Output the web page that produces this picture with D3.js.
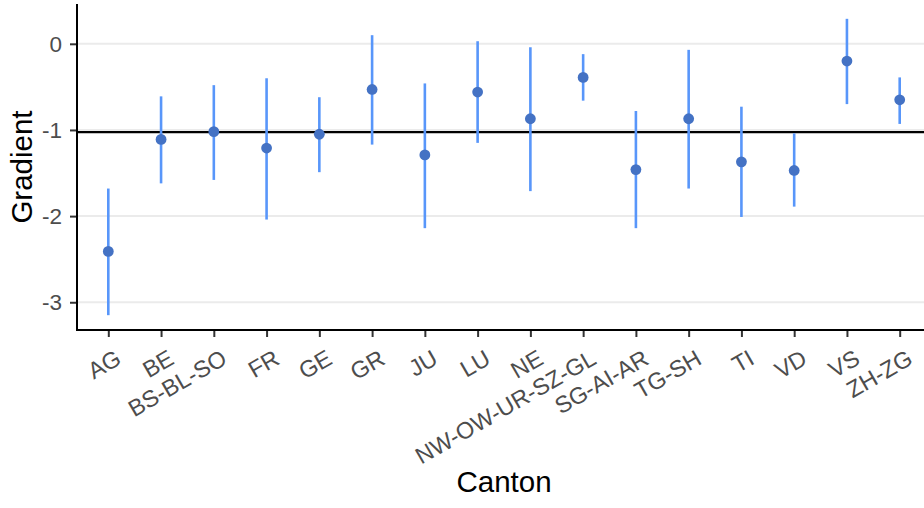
<!DOCTYPE html>
<html><head><meta charset="utf-8">
<script src="https://cdn.jsdelivr.net/npm/d3@7"></script>
<style>body{margin:0;background:#fff}svg{display:block;font-family:"Liberation Sans",Arial,sans-serif}</style>
</head><body>
<svg id="c" width="924" height="508"></svg>
<script>
const cantons = ["AG","BE","BS-BL-SO","FR","GE","GR","JU","LU","NE","NW-OW-UR-SZ-GL","SG-AI-AR","TG-SH","TI","VD","VS","ZH-ZG"];
const gradient = [-2.41,-1.11,-1.02,-1.21,-1.05,-0.53,-1.29,-0.56,-0.87,-0.39,-1.46,-0.87,-1.37,-1.47,-0.20,-0.65];
const lower = [-3.15,-1.62,-1.58,-2.04,-1.49,-1.17,-2.14,-1.15,-1.71,-0.66,-2.14,-1.68,-2.01,-1.89,-0.70,-0.93];
const upper = [-1.68,-0.61,-0.48,-0.40,-0.62,0.10,-0.46,0.03,-0.04,-0.12,-0.78,-0.07,-0.73,-1.04,0.29,-0.39];
const yTicks = [0,-1,-2,-3];
const yTickLabels = ["0","-1","-2","-3"];
const refLine = -1.025;

(function(){
const svg = d3.select("#c");
const pLeft = 77, pTop = 4, pBottom = 330, pRight = 931.4;
const x = d3.scalePoint().domain(cantons).range([108.3, 899.7]);
const ymin = -3.15, ymax = 0.29, pad = (ymax - ymin) * 0.05;
const y = d3.scaleLinear().domain([ymin - pad, ymax + pad]).range([pBottom, pTop]);

svg.append("g").selectAll("line").data(yTicks).join("line")
  .attr("x1", pLeft).attr("x2", pRight).attr("y1", d => y(d)).attr("y2", d => y(d))
  .attr("stroke", "#EBEBEB").attr("stroke-width", 2);

svg.append("line").attr("x1", pLeft).attr("x2", pRight)
  .attr("y1", y(refLine)).attr("y2", y(refLine))
  .attr("stroke", "#000").attr("stroke-width", 2.2);

const data = cantons.map((c, i) => ({c, g: gradient[i], lo: lower[i], hi: upper[i]}));

svg.append("g").selectAll("line").data(data).join("line")
  .attr("x1", d => x(d.c)).attr("x2", d => x(d.c))
  .attr("y1", d => y(d.lo)).attr("y2", d => y(d.hi))
  .attr("stroke", "#5896FA").attr("stroke-width", 2.6);

svg.append("g").selectAll("circle").data(data).join("circle")
  .attr("cx", d => x(d.c)).attr("cy", d => y(d.g)).attr("r", 5.4)
  .attr("fill", "#4472C4");

const ya = svg.append("g").attr("transform", `translate(${pLeft},0)`)
  .call(d3.axisLeft(y).tickValues(yTicks).tickSize(7).tickPadding(8)
    .tickFormat((d, i) => yTickLabels[i]));
ya.attr("font-family", null).attr("font-size", null);
ya.select(".domain").remove();
ya.selectAll(".tick line").attr("stroke", "#333").attr("stroke-width", 2);
ya.selectAll(".tick text").attr("fill", "#4D4D4D").style("font-size", "22.5px");
svg.append("line").attr("x1", pLeft).attr("x2", pLeft).attr("y1", pTop).attr("y2", pBottom + 1)
  .attr("stroke", "#000").attr("stroke-width", 2);

const xa = svg.append("g").attr("transform", `translate(0,${pBottom})`)
  .call(d3.axisBottom(x).tickSize(7).tickFormat(d => d));
xa.attr("font-family", null).attr("font-size", null);
xa.select(".domain").remove();
xa.selectAll(".tick line").attr("stroke", "#333").attr("stroke-width", 2);
xa.selectAll(".tick text").attr("fill", "#4D4D4D").style("font-size", "23.3px")
  .attr("text-anchor", "end").attr("dy", null).attr("y", null)
  .attr("transform", "translate(14,33) rotate(-30)");
svg.append("line").attr("x1", pLeft - 1).attr("x2", 924).attr("y1", pBottom).attr("y2", pBottom)
  .attr("stroke", "#000").attr("stroke-width", 2);

svg.append("text").attr("x", 504).attr("y", 492).attr("text-anchor", "middle")
  .style("font-size", "29.5px").attr("fill", "#000").text("Canton");
svg.append("text").attr("transform", `translate(32,${(pTop + pBottom) / 2}) rotate(-90)`)
  .attr("text-anchor", "middle").style("font-size", "29.5px").attr("fill", "#000").text("Gradient");
})();
</script>
</body></html>
